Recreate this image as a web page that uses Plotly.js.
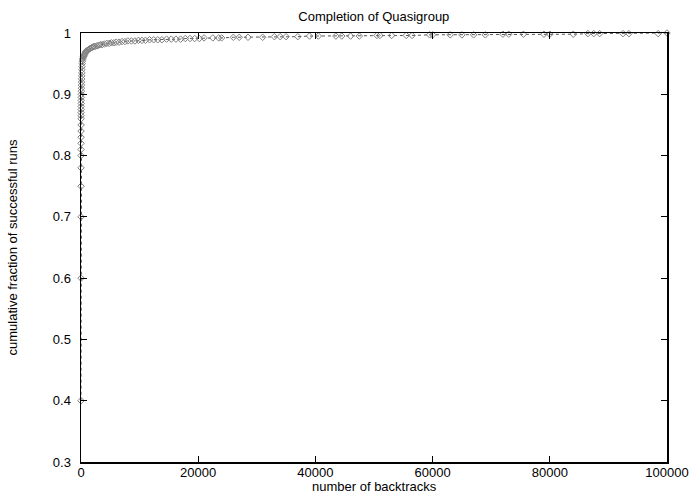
<!DOCTYPE html>
<html>
<head>
<meta charset="utf-8">
<script src="https://cdn.plot.ly/plotly-3.0.1.min.js"></script>
<style>html,body{margin:0;padding:0;background:#fff;}</style>
</head>
<body>
<div id="chart" style="width:691px;height:494px;"></div>
<script>
const backtracks = [0, 1, 2, 3, 4, 5, 6, 8, 10, 12, 14, 17, 20, 24, 28, 32, 37, 43, 50, 57, 65, 74, 84, 95, 108, 122, 138, 156, 178, 205, 240, 280, 330, 400, 450,
  500, 600, 700, 800, 900, 1000, 1150, 1300, 1450, 1600, 1800, 2000, 2200, 2400, 2700, 3000, 3300, 3600, 4000, 4400, 4800, 5200, 5600, 6000, 6500, 7000, 7500, 8000, 8600, 9200, 9800, 10400, 11000, 11700, 12400, 13100, 13800, 14600, 15400, 16200, 17000, 17800, 18600, 19400, 20200, 21000,
  22500, 23500, 24000, 26000, 27000, 28500, 31000, 33000, 34000, 35000, 37000, 39000, 40500, 43500, 44500, 46000, 47500, 50500, 51000, 53000, 55500, 56500, 59500, 60000, 63000, 65000, 67000, 69000, 72000, 73000, 75500, 79000, 80000, 84000, 86500, 87500, 88500, 92500, 93500, 98500, 100000];
const fraction = [0.40, 0.60, 0.70, 0.75, 0.78, 0.80, 0.81, 0.82, 0.83, 0.84, 0.85, 0.86, 0.865, 0.87, 0.875, 0.88, 0.885, 0.89, 0.895, 0.90, 0.905, 0.91, 0.915, 0.92, 0.925, 0.93, 0.935, 0.94, 0.945, 0.95, 0.954, 0.957, 0.959, 0.961, 0.962,
  0.963, 0.965, 0.967, 0.969, 0.970, 0.971, 0.972, 0.973, 0.974, 0.975, 0.976, 0.977, 0.978, 0.978, 0.979, 0.980, 0.981, 0.981, 0.982, 0.983, 0.983, 0.984, 0.984, 0.985, 0.985, 0.986, 0.986, 0.987, 0.987, 0.987, 0.988, 0.988, 0.988, 0.989, 0.989, 0.989, 0.989, 0.990, 0.990, 0.990, 0.990, 0.991, 0.991, 0.991, 0.991, 0.992,
  0.992, 0.992, 0.992, 0.993, 0.993, 0.993, 0.993, 0.994, 0.994, 0.994, 0.994, 0.995, 0.995, 0.995, 0.995, 0.995, 0.995, 0.996, 0.996, 0.996, 0.996, 0.996, 0.997, 0.997, 0.997, 0.997, 0.997, 0.997, 0.998, 0.998, 0.998, 0.998, 0.998, 0.998, 0.999, 0.999, 0.999, 0.999, 0.999, 0.999, 1.0];
const xTicks = [0, 20000, 40000, 60000, 80000, 100000];
const yTicks = [0.3, 0.4, 0.5, 0.6, 0.7, 0.8, 0.9, 1];

const font = {family: 'Liberation Sans, Arial, sans-serif', size: 13, color: '#000'};
const trace = {
  x: backtracks, y: fraction, type: 'scatter', mode: 'lines+markers',
  line: {color: '#555', width: 1, dash: 'dot'},
  marker: {symbol: 'diamond-open', size: 5, color: '#808080', line: {width: 1, color: '#808080'}},
  cliponaxis: false, showlegend: false
};
const axisCommon = {
  showgrid: false, zeroline: false, showline: true, linecolor: '#000', linewidth: 1.5,
  mirror: 'ticks', ticks: 'inside', ticklen: 6, tickwidth: 1.2, tickcolor: '#000',
  tickfont: font, automargin: false
};
const layout = {
  width: 691, height: 494,
  margin: {l: 81, r: 24, t: 33, b: 32},
  paper_bgcolor: '#fff', plot_bgcolor: '#fff',
  font: font,
  title: {text: 'Completion of Quasigroup', font: font, x: 0.541, xanchor: 'center', y: 0.966, yanchor: 'middle'},
  xaxis: Object.assign({}, axisCommon, {
    range: [0, 100000], tickvals: xTicks, ticktext: xTicks.map(String),
    ticklabelstandoff: -2
  }),
  yaxis: Object.assign({}, axisCommon, {
    range: [0.3, 1], tickvals: yTicks, ticktext: yTicks.map(String),
    ticklabelstandoff: 6,
    title: {text: 'cumulative fraction of successful runs', font: font, standoff: 32}
  }),
  annotations: [{
    text: 'number of backtracks', font: font, showarrow: false,
    xref: 'paper', yref: 'paper', x: 0.5, y: -0.0746, xanchor: 'center', yanchor: 'bottom', yshift: -2
  }]
};
Plotly.newPlot('chart', [trace], layout, {staticPlot: true, displayModeBar: false});
</script>
</body>
</html>
